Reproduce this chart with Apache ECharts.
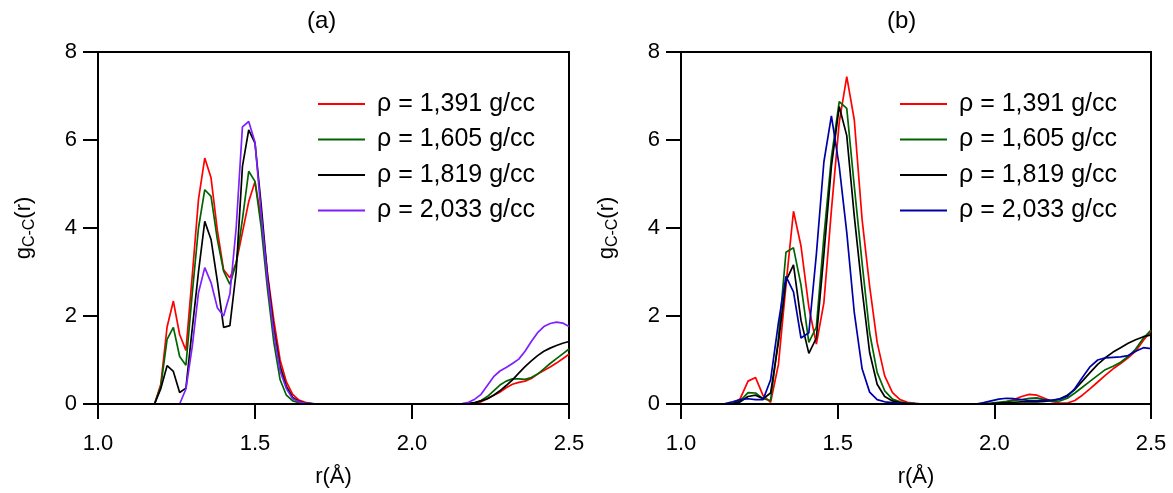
<!DOCTYPE html>
<html>
<head>
<meta charset="utf-8">
<script src="https://cdn.jsdelivr.net/npm/echarts@6/dist/echarts.min.js"></script>
<style>
html,body{margin:0;padding:0;background:#fff;}
#chart{width:1173px;height:493px;}
</style>
</head>
<body>
<div id="chart"></div>
<script>
// ---------- DATA ----------
const NAMES = ['ρ = 1,391 g/cc', 'ρ = 1,605 g/cc', 'ρ = 1,819 g/cc', 'ρ = 2,033 g/cc'];
const X_TICKS = [1.0, 1.5, 2.0, 2.5];
const Y_TICKS = [0, 2, 4, 6, 8];

// panel (a) r grid (Å)
const R_A = [1.16,1.18,1.20,1.22,1.24,1.26,1.28,1.30,1.32,1.34,1.36,1.38,1.40,1.42,1.44,1.46,1.48,1.50,1.52,1.54,1.56,1.58,1.60,1.62,1.64,1.66,1.68,1.70,
  1.72,1.74,1.76,1.78,1.80,1.82,1.84,1.86,1.88,1.90,1.92,1.94,1.96,1.98,2.00,2.02,2.04,2.06,2.08,2.10,2.12,
  2.14,2.16,2.18,2.20,2.22,2.24,2.26,2.28,2.30,2.32,2.34,2.36,2.38,2.40,2.42,2.44,2.46,2.48,2.50];

const A_1391 = [0,0,0.45,1.75,2.34,1.58,1.22,2.9,4.65,5.59,5.14,3.95,3.05,2.87,3.2,3.9,4.6,5.05,4.2,2.95,1.9,1.0,0.5,0.22,0.09,0.04,0.01,0,
  0,0,0,0,0,0,0,0,0,0,0,0,0,0,0,0,0,0,0,0,0,
  0,0,0,0.02,0.05,0.12,0.2,0.27,0.37,0.45,0.49,0.52,0.58,0.68,0.76,0.84,0.93,1.03,1.13];
const A_1605 = [0,0,0.4,1.47,1.74,1.08,0.88,2.5,4.0,4.87,4.72,3.74,3.02,2.72,3.2,4.2,5.29,5.06,4.0,2.6,1.4,0.55,0.2,0.07,0.03,0.01,0,0,
  0,0,0,0,0,0,0,0,0,0,0,0,0,0,0,0,0,0,0,0,0,
  0,0,0.01,0.03,0.08,0.17,0.3,0.43,0.52,0.57,0.57,0.56,0.6,0.68,0.8,0.92,1.03,1.14,1.25];
const A_1819 = [0,0,0.35,0.87,0.74,0.26,0.36,1.7,3.0,4.15,3.74,2.8,1.74,1.78,3.0,5.4,6.23,5.93,4.5,2.9,1.7,0.85,0.4,0.15,0.06,0.02,0.01,0,
  0,0,0,0,0,0,0,0,0,0,0,0,0,0,0,0,0,0,0,0,0,
  0,0,0.01,0.03,0.07,0.12,0.2,0.3,0.42,0.55,0.7,0.85,0.98,1.1,1.2,1.27,1.33,1.38,1.42];
const A_2033 = [0,0,0,0,0,0,0.34,1.3,2.53,3.1,2.76,2.19,2.0,2.5,4.0,6.3,6.42,5.95,4.3,2.8,1.6,0.75,0.35,0.12,0.05,0.02,0.01,0,
  0,0,0,0,0,0,0,0,0,0,0,0,0,0,0,0,0,0,0,0,0,
  0,0.01,0.04,0.11,0.22,0.42,0.62,0.75,0.83,0.92,1.02,1.2,1.42,1.62,1.76,1.83,1.86,1.84,1.76];

// panel (b) r grid (Å)
const R_B = [1.116,1.141,1.165,1.189,1.214,1.238,1.262,1.286,1.311,1.335,1.359,1.383,1.408,1.432,1.456,1.480,1.505,1.529,1.553,1.578,1.602,1.626,1.650,1.675,1.699,1.723,1.747,
  1.772,1.796,1.820,1.845,1.869,1.893,1.917,
  1.942,1.966,1.990,2.014,2.039,2.063,2.087,2.112,2.136,2.160,2.184,2.209,2.233,2.257,2.281,2.306,2.330,2.354,2.379,2.403,2.427,2.451,2.476,2.500];

const B_1391 = [0,0,0,0.12,0.52,0.6,0.19,0.04,0.9,2.7,4.38,3.59,2.2,1.36,2.3,4.4,6.4,7.44,6.46,4.19,2.68,1.4,0.64,0.26,0.1,0.04,0.015,
  0,0,0,0,0,0,0,
  0,0,0,0.02,0.05,0.1,0.17,0.22,0.2,0.13,0.06,0.02,0.02,0.08,0.2,0.35,0.5,0.65,0.8,0.92,1.05,1.2,1.45,1.66];
const B_1605 = [0,0,0.01,0.07,0.26,0.25,0.12,0.08,1.5,3.45,3.55,2.7,1.4,1.75,3.8,5.6,6.87,6.72,4.95,3.2,1.62,0.72,0.3,0.11,0.05,0.02,0.01,
  0,0,0,0,0,0,0,
  0,0.01,0.02,0.04,0.06,0.08,0.1,0.13,0.14,0.1,0.06,0.07,0.13,0.25,0.38,0.52,0.65,0.78,0.86,0.95,1.08,1.25,1.5,1.68];
const B_1819 = [0,0,0.01,0.05,0.17,0.2,0.12,0.25,1.4,2.8,3.16,1.9,1.15,1.5,3.4,5.4,6.76,6.1,4.27,2.6,1.17,0.45,0.17,0.07,0.03,0.01,0,
  0,0,0,0,0,0,0,
  0,0,0.01,0.02,0.03,0.04,0.05,0.05,0.05,0.06,0.08,0.12,0.2,0.33,0.52,0.72,0.9,1.05,1.18,1.28,1.38,1.46,1.53,1.57];
const B_2033 = [0,0.01,0.05,0.1,0.12,0.1,0.1,0.55,1.85,2.9,2.55,1.5,1.62,3.4,5.5,6.55,5.4,3.9,2.08,0.8,0.27,0.1,0.05,0.03,0.02,0.01,0.01,
  0,0,0,0,0,0,0,
  0,0.03,0.07,0.11,0.13,0.12,0.1,0.08,0.08,0.09,0.09,0.11,0.17,0.35,0.6,0.85,1.0,1.05,1.06,1.07,1.1,1.2,1.28,1.26];

const COLORS_A = ['#ff0000', '#006400', '#000000', '#7f1fff'];
const COLORS_B = ['#ff0000', '#006400', '#000000', '#0000a8'];

// ---------- CHART ----------
const FONT = 'Liberation Sans';
const chart = echarts.init(document.getElementById('chart'), null, {renderer: 'canvas'});

function pairs(R, V) { return R.map((r, i) => [r, V[i]]); }

function xAxisFor(gi) {
  return {
    type: 'value', gridIndex: gi, min: X_TICKS[0], max: X_TICKS[X_TICKS.length - 1], interval: 0.5, z: 5,
    name: 'r(Å)', nameLocation: 'middle', nameGap: 62,
    nameTextStyle: {fontSize: 22, fontFamily: FONT, color: '#000'},
    axisLine: {show: true, onZero: false, lineStyle: {color: '#000', width: 2}},
    axisTick: {show: true, inside: false, length: 15, lineStyle: {color: '#000', width: 2}},
    axisLabel: {fontSize: 22, fontFamily: FONT, color: '#000', margin: 29, formatter: v => v.toFixed(1)},
    splitLine: {show: false}
  };
}
function yAxisFor(gi) {
  return {
    type: 'value', gridIndex: gi, min: Y_TICKS[0], max: Y_TICKS[Y_TICKS.length - 1], interval: 2, z: 5,
    name: '{g|g}{s|C-C}{g|(r)}', nameLocation: 'middle', nameGap: 60, nameRotate: 90,
    nameTextStyle: {
      fontFamily: FONT, color: '#000',
      rich: {
        g: {fontSize: 22, fontFamily: FONT, color: '#000', lineHeight: 28, verticalAlign: 'middle'},
        s: {fontSize: 16, fontFamily: FONT, color: '#000', lineHeight: 16, verticalAlign: 'bottom'}
      }
    },
    axisLine: {show: true, onZero: false, lineStyle: {color: '#000', width: 2}},
    axisTick: {show: true, inside: false, length: 15, lineStyle: {color: '#000', width: 2}},
    axisLabel: {fontSize: 22, fontFamily: FONT, color: '#000', margin: 21},
    splitLine: {show: false}
  };
}

const A_SETS = [A_1391, A_1605, A_1819, A_2033];
const B_SETS = [B_1391, B_1605, B_1819, B_2033];
const series = [];
A_SETS.forEach((v, i) => series.push({
  name: NAMES[i], type: 'line', xAxisIndex: 0, yAxisIndex: 0, data: pairs(R_A, v),
  symbol: 'none', lineStyle: {color: COLORS_A[i], width: 1.7}, itemStyle: {color: COLORS_A[i]}, z: 2
}));
B_SETS.forEach((v, i) => series.push({
  name: NAMES[i] + ' ', type: 'line', xAxisIndex: 1, yAxisIndex: 1, data: pairs(R_B, v),
  symbol: 'none', lineStyle: {color: COLORS_B[i], width: 1.7}, itemStyle: {color: COLORS_B[i]}, z: 2
}));

function legendFor(left, names, colors) {
  return {
    orient: 'vertical', left: left, top: 86, icon: 'rect', itemWidth: 47, itemHeight: 2, itemGap: 9.5,
    selectedMode: false,
    data: names.map((n, i) => ({name: n, icon: 'rect', itemStyle: {color: colors[i]}})),
    textStyle: {fontSize: 25, fontFamily: FONT, color: '#000', lineHeight: 26, padding: [0, 0, 0, 7]}
  };
}

chart.setOption({
  animation: false,
  backgroundColor: '#fff',
  grid: [
    {left: 98, right: 604, top: 52, bottom: 88, show: true, borderColor: '#000', borderWidth: 2, backgroundColor: 'transparent'},
    {left: 681, right: 22, top: 52, bottom: 88, show: true, borderColor: '#000', borderWidth: 2, backgroundColor: 'transparent'}
  ],
  xAxis: [xAxisFor(0), xAxisFor(1)],
  yAxis: [yAxisFor(0), yAxisFor(1)],
  legend: [
    legendFor(313, NAMES, COLORS_A),
    legendFor(895, NAMES.map(n => n + ' '), COLORS_B)
  ],
  title: [
    {text: '(a)', left: 307, top: 9, padding: 0, textStyle: {fontSize: 24, fontWeight: 'normal', fontFamily: FONT, color: '#000'}},
    {text: '(b)', left: 887, top: 9, padding: 0, textStyle: {fontSize: 24, fontWeight: 'normal', fontFamily: FONT, color: '#000'}}
  ],
  series: series
});
</script>
</body>
</html>
